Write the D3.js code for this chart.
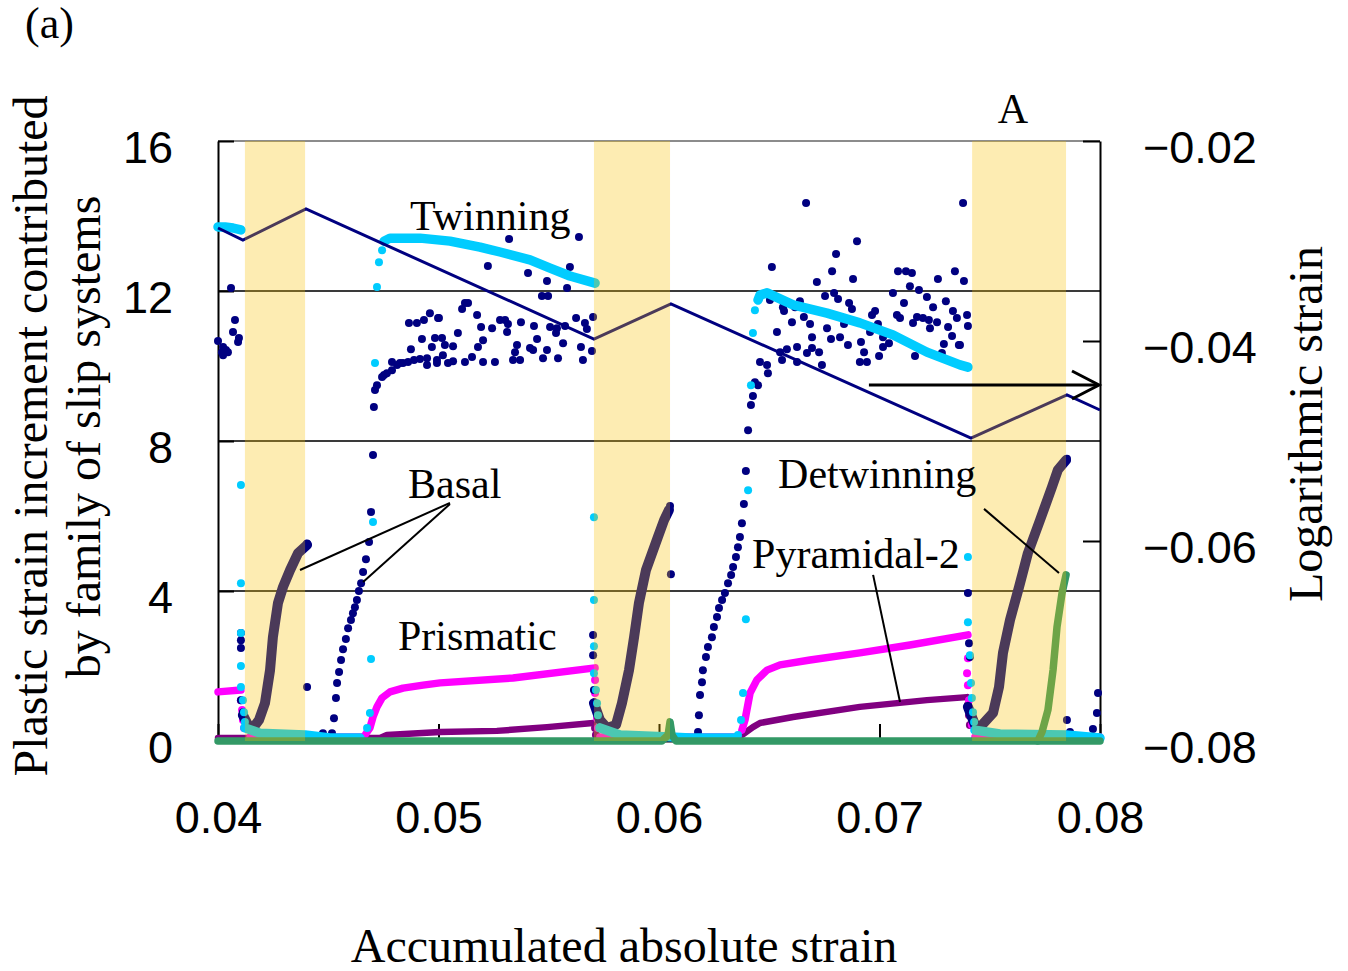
<!DOCTYPE html>
<html>
<head>
<meta charset="utf-8">
<script src="https://cdn.jsdelivr.net/npm/d3@7"></script>
<style>
  body { margin: 0; background: #fff; }
  svg { display: block; }
</style>
</head>
<body>
<svg width="1348" height="971"></svg>
<script>
// ---- data ----
// x = accumulated absolute strain, y = plastic strain increment (left axis)
const xTicks = [0.04, 0.05, 0.06, 0.07, 0.08];
const yTicks = [0, 4, 8, 12, 16];
const y2Ticks = [-0.08, -0.06, -0.04, -0.02];

// shaded loading intervals
const bands = [[0.04122, 0.04395], [0.05705, 0.0605], [0.0742, 0.07846]];

// logarithmic strain (right axis)
const logStrain = [[0.0400, -0.0287], [0.04113, -0.0299], [0.04399, -0.0268], [0.05705, -0.0398],
  [0.06054, -0.0363], [0.07415, -0.0497], [0.0785, -0.0454], [0.0800, -0.0469]];

// Basal - scattered points
const basalDots = [
  [0.04059, 12.08], [0.04077, 11.23], [0.04068, 10.91], [0.04095, 10.75], [0.04091, 10.64], [0.04000, 10.67],
  [0.04023, 10.51], [0.04036, 10.43], [0.04023, 10.29], [0.04045, 10.37], [0.04018, 10.37],
  [0.04104, 2.88], [0.04104, 2.69], [0.04104, 2.48], [0.04104, 1.09], [0.04113, 0.77],
  [0.04404, 1.44], [0.04404, 5.27], [0.04417, 0.08], [0.04440, 0.08], [0.04476, 0.21], [0.04508, 0.08],
  [0.04517, 0.21], [0.04526, 0.61], [0.04535, 1.15], [0.04540, 1.55], [0.04549, 1.84], [0.04558, 2.16],
  [0.04567, 2.45], [0.04580, 2.72], [0.04590, 3.01], [0.04603, 3.23], [0.04612, 3.41], [0.04621, 3.57],
  [0.04630, 3.76], [0.04639, 4.00], [0.04649, 4.21], [0.04658, 4.51], [0.04671, 4.85], [0.04685, 5.31],
  [0.04694, 6.11], [0.04703, 7.63], [0.04707, 8.91], [0.04712, 9.36], [0.04721, 9.49], [0.04744, 9.71],
  [0.04753, 9.76], [0.04766, 9.81], [0.04789, 9.89], [0.04812, 10.03], [0.04825, 10.08], [0.04839, 10.08],
  [0.04862, 10.11], [0.04889, 10.16], [0.04916, 10.19], [0.04948, 10.21], [0.04993, 10.16], [0.04789, 10.11],
  [0.04875, 10.45], [0.04925, 10.72], [0.04970, 10.51], [0.04866, 11.15], [0.04902, 11.15], [0.04934, 11.23],
  [0.04961, 11.41], [0.04998, 11.28], [0.04948, 10.03],
  [0.05320, 13.39], [0.05637, 13.44], [0.05224, 12.67], [0.05406, 12.48], [0.05492, 12.27], [0.05596, 12.64],
  [0.05583, 12.08], [0.05469, 11.87], [0.05497, 11.87], [0.05120, 11.68], [0.05134, 11.68], [0.05107, 11.52],
  [0.05175, 11.36], [0.05002, 11.28], [0.05279, 11.23], [0.05302, 11.23], [0.05315, 11.12], [0.05374, 11.17],
  [0.05433, 11.07], [0.05193, 11.04], [0.05243, 11.01], [0.05311, 10.91], [0.05506, 11.04], [0.05537, 11.01],
  [0.05574, 11.07], [0.05624, 11.28], [0.05664, 11.15], [0.05701, 11.31], [0.05673, 10.99], [0.05533, 10.88],
  [0.05088, 10.88], [0.04984, 10.75], [0.05016, 10.75], [0.05202, 10.69], [0.05447, 10.72], [0.05565, 10.61],
  [0.05356, 10.56], [0.05029, 10.56], [0.05066, 10.53], [0.05179, 10.51], [0.05415, 10.48], [0.05646, 10.51],
  [0.05696, 10.40], [0.05020, 10.29], [0.05347, 10.37], [0.05429, 10.43], [0.05492, 10.43], [0.05152, 10.24],
  [0.05370, 10.16], [0.05338, 10.16], [0.05120, 10.11], [0.05202, 10.11], [0.05256, 10.11], [0.05474, 10.21],
  [0.05542, 10.21], [0.05655, 10.16], [0.04993, 10.08], [0.05043, 10.08], [0.05066, 10.13],
  [0.05701, 2.83], [0.05701, 2.29], [0.05705, 1.36], [0.06050, 6.27], [0.06054, 4.45],
  [0.06077, 0.08], [0.06095, 0.05], [0.06118, 0.08], [0.06141, 0.05], [0.06159, 0.08], [0.06177, 0.24],
  [0.06181, 0.69], [0.06186, 1.23], [0.06195, 1.57], [0.06199, 1.89], [0.06213, 2.24], [0.06222, 2.51],
  [0.06240, 2.77], [0.06249, 3.04], [0.06263, 3.31], [0.06272, 3.55], [0.06286, 3.76], [0.06299, 3.95],
  [0.06313, 4.21], [0.06327, 4.43], [0.06336, 4.64], [0.06349, 4.91], [0.06358, 5.17], [0.06367, 5.44],
  [0.06376, 5.81], [0.06385, 6.32], [0.06394, 7.20], [0.06404, 8.29], [0.06417, 8.96], [0.06426, 9.20],
  [0.06449, 9.49], [0.06435, 9.57], [0.06494, 9.81],
  [0.06667, 14.35], [0.07379, 14.35], [0.06898, 13.33], [0.06803, 12.99], [0.06512, 12.64], [0.06785, 12.53],
  [0.06880, 12.32], [0.06716, 12.24], [0.07084, 12.53], [0.07120, 12.53], [0.07147, 12.48], [0.07342, 12.53],
  [0.07265, 12.32], [0.07383, 12.27], [0.07138, 12.13], [0.07179, 12.03], [0.06753, 11.87], [0.06794, 11.95],
  [0.06812, 11.79], [0.07061, 11.95], [0.06503, 11.76], [0.06639, 11.73], [0.06862, 11.68], [0.06875, 11.52],
  [0.07111, 11.68], [0.07215, 11.84], [0.07301, 11.73], [0.06562, 11.57], [0.06567, 11.47], [0.06617, 11.57],
  [0.06980, 11.47], [0.07243, 11.57], [0.07333, 11.47], [0.06966, 11.36], [0.07079, 11.36], [0.06657, 11.31],
  [0.07093, 11.28], [0.07170, 11.31], [0.07197, 11.28], [0.07224, 11.23], [0.07351, 11.28], [0.07397, 11.36],
  [0.06603, 11.17], [0.06685, 11.12], [0.06839, 11.12], [0.06993, 11.12], [0.07152, 11.15], [0.07261, 11.17],
  [0.07401, 11.07], [0.06762, 11.01], [0.07311, 11.04], [0.07229, 11.01], [0.06535, 10.91], [0.06957, 10.91],
  [0.07016, 10.77], [0.07329, 10.80], [0.06694, 10.77], [0.06821, 10.77], [0.06780, 10.72], [0.07043, 10.61],
  [0.06916, 10.64], [0.06857, 10.56], [0.07292, 10.59], [0.07360, 10.56], [0.07016, 10.51], [0.06626, 10.51],
  [0.06580, 10.45], [0.06694, 10.48], [0.06726, 10.37], [0.06671, 10.35], [0.06549, 10.37], [0.06930, 10.37],
  [0.07283, 10.35], [0.07161, 10.27], [0.06998, 10.27], [0.06558, 10.16], [0.06458, 10.11], [0.06490, 10.03],
  [0.06911, 10.11], [0.06943, 10.11], [0.06739, 10.03], [0.06626, 10.11], [0.07365, 10.56],
  [0.07401, 3.95], [0.07406, 2.61], [0.07410, 2.24], [0.07850, 7.53],
  [0.07850, 0.56], [0.07864, 0.24], [0.07909, 0.08], [0.07968, 0.32], [0.07986, 0.75], [0.07991, 1.28]
];
// Basal - dense growth inside the shaded intervals
const basalCurves = [
  [[0.04113, 0.69], [0.04136, 0.43], [0.04159, 0.35], [0.04186, 0.56], [0.04213, 1.01], [0.04236, 1.89],
   [0.04249, 2.77], [0.04272, 3.68], [0.04295, 4.11], [0.04327, 4.56], [0.04363, 5.01], [0.04404, 5.23]],
  [[0.05705, 1.01], [0.05732, 0.56], [0.05764, 0.35], [0.05805, 0.43], [0.05832, 1.01], [0.05864, 1.89],
   [0.05887, 2.77], [0.05909, 3.68], [0.05941, 4.56], [0.05995, 5.44], [0.06023, 5.89], [0.06045, 6.16]],
  [[0.07401, 0.91], [0.07433, 0.43], [0.07456, 0.37], [0.07515, 0.75], [0.07542, 1.44], [0.07560, 2.35],
   [0.07592, 3.23], [0.07633, 4.11], [0.07673, 5.01], [0.07728, 5.89], [0.07782, 6.77], [0.07809, 7.23],
   [0.07846, 7.49]]
];

// Twinning
const twinDots = [
  [0.04104, 6.83], [0.04104, 4.21], [0.04104, 2.88], [0.04104, 2.00], [0.04104, 1.44], [0.04113, 1.09],
  [0.04118, 0.77], [0.04122, 0.51],
  [0.04676, 0.35], [0.04689, 0.75], [0.04694, 2.19], [0.04703, 5.84], [0.04712, 10.08], [0.04721, 12.11],
  [0.04730, 12.77], [0.04744, 13.09],
  [0.05705, 5.97], [0.05705, 3.76], [0.05705, 2.53], [0.05705, 1.81], [0.05714, 1.36], [0.05719, 1.01],
  [0.05723, 0.69],
  [0.06358, 0.16], [0.06372, 0.56], [0.06381, 1.28], [0.06394, 3.25], [0.06404, 6.69], [0.06417, 9.49],
  [0.06426, 10.88], [0.06435, 11.49],
  [0.07401, 4.91], [0.07401, 3.17], [0.07410, 2.29], [0.07415, 1.55], [0.07419, 1.15], [0.07424, 0.77],
  [0.07429, 0.51]
];
const twinCurves = [
  [[0.0400, 13.71], [0.04032, 13.71], [0.04068, 13.68], [0.04104, 13.63]],
  [[0.04122, 0.35], [0.04190, 0.21], [0.04395, 0.16], [0.04508, 0.08], [0.04644, 0.08]],
  [[0.04753, 13.33], [0.04780, 13.41], [0.04916, 13.41], [0.05052, 13.33], [0.05188, 13.17], [0.05279, 13.04],
   [0.05415, 12.83], [0.05506, 12.61], [0.05596, 12.40], [0.05710, 12.21]],
  [[0.05732, 0.35], [0.05823, 0.16], [0.06050, 0.11], [0.06141, 0.08], [0.06345, 0.08]],
  [[0.06449, 11.76], [0.06458, 11.89], [0.06490, 11.95], [0.06608, 11.63], [0.06762, 11.41], [0.06911, 11.15],
   [0.07061, 10.83], [0.07215, 10.37], [0.07365, 10.03], [0.07401, 9.97]],
  [[0.07433, 0.29], [0.07546, 0.19], [0.07846, 0.16], [0.0800, 0.08]]
];

// Prismatic
const prisDots = [
  [0.04104, 1.09], [0.04109, 0.83], [0.04113, 0.56], [0.04118, 0.35],
  [0.05710, 1.63], [0.05710, 1.28], [0.05714, 0.96], [0.05719, 0.61], [0.05723, 0.35],
  [0.07401, 2.21], [0.07397, 1.81], [0.07401, 1.49], [0.07406, 1.09], [0.07410, 0.75], [0.07419, 0.43]
];
const prisCurves = [
  [[0.0400, 1.31], [0.04104, 1.36]],
  [[0.04145, 0.11], [0.04653, 0.11]],
  [[0.04667, 0.16], [0.04689, 0.35], [0.04703, 0.64], [0.04721, 0.91], [0.04744, 1.15], [0.04780, 1.31],
   [0.04839, 1.41], [0.04930, 1.49], [0.05007, 1.55], [0.05338, 1.68], [0.05710, 1.95]],
  [[0.05732, 0.11], [0.06358, 0.11]],
  [[0.06376, 0.29], [0.06390, 0.56], [0.06413, 1.28], [0.06444, 1.63], [0.06490, 1.89], [0.06549, 2.03],
   [0.06685, 2.16], [0.06911, 2.35], [0.07138, 2.56], [0.07401, 2.83]],
  [[0.07433, 0.11], [0.0800, 0.11]]
];

// Pyramidal-2
const pyrDots = [[0.05710, 0.35], [0.05714, 0.16], [0.07401, 0.96], [0.07406, 0.69], [0.07410, 0.43]];
const pyrCurves = [
  [[0.0400, 0.08], [0.04735, 0.08], [0.04766, 0.16], [0.05007, 0.24], [0.05265, 0.27], [0.05492, 0.37],
   [0.05701, 0.48]],
  [[0.05732, 0.08], [0.06358, 0.08], [0.06376, 0.16], [0.06426, 0.37], [0.06458, 0.48], [0.06608, 0.64],
   [0.06911, 0.91], [0.07215, 1.09], [0.07397, 1.17]],
  [[0.07433, 0.08], [0.0800, 0.08]]
];

// Detwinning
const detCurves = [
  [[0.0400, 0], [0.06013, 0], [0.06041, 0.16], [0.06050, 0.51], [0.06059, 0.16], [0.06077, 0], [0.07718, 0],
   [0.07737, 0.24], [0.07764, 0.83], [0.07787, 1.89], [0.07805, 3.04], [0.07828, 3.95], [0.07846, 4.43]],
  [[0.07718, 0], [0.0800, 0]]
];

// labels and leader lines, in data units
const labels = [
  { text: 'Twinning', x: 0.04871, y: 13.63 },
  { text: 'Basal', x: 0.04862, y: 6.48 },
  { text: 'Prismatic', x: 0.04816, y: 2.43 },
  { text: 'Detwinning', x: 0.0654, y: 6.75 },
  { text: 'Pyramidal-2', x: 0.06422, y: 4.61 }
];
const leaders = [
  [[0.05052, 6.35], [0.04372, 4.56]],
  [[0.05052, 6.32], [0.04658, 4.24]],
  [[0.07474, 6.19], [0.07814, 4.48]],
  [[0.06971, 4.43], [0.07093, 1.04]]
];

// ---- chart ----
const svg = d3.select('svg');
const serif = '"Liberation Serif", "Times New Roman", serif';
const sans = '"Liberation Sans", Arial, sans-serif';

const x = d3.scaleLinear().domain([0.04, 0.08]).range([218, 1100]);
const y = d3.scaleLinear().domain([0, 16]).range([741, 141]);
const y2 = d3.scaleLinear().domain([-0.08, -0.02]).range([741, 141]);

// grid lines and top border
svg.append('g')
  .selectAll('line')
  .data(yTicks.filter(d => d > 0))
  .enter()
  .append('line')
  .attr('x1', x(0.04)).attr('x2', x(0.08))
  .attr('y1', d => y(d)).attr('y2', d => y(d))
  .attr('stroke', d => d === 16 ? '#8c8c8c' : '#3a3a3a')
  .attr('stroke-width', 1.8);

// axes, ticks pointing inward (drawn under the data)
const axLeft = svg.append('g')
  .attr('transform', `translate(${x(0.04)},0)`)
  .call(d3.axisLeft(y).tickValues(yTicks).tickSize(-16).tickSizeOuter(0).tickFormat(d3.format('d')));
axLeft.selectAll('.tick text').attr('x', -45).attr('dy', null).attr('y', 21);

const axRight = svg.append('g')
  .attr('transform', `translate(${x(0.08)},0)`)
  .call(d3.axisRight(y2).tickValues(y2Ticks).tickSize(-17).tickSizeOuter(0).tickFormat(d3.format('.2f')));
axRight.selectAll('.tick text').attr('x', 43).attr('dy', null).attr('y', 21);

const axBottom = svg.append('g')
  .attr('transform', `translate(0,${y(0)})`)
  .call(d3.axisBottom(x).tickValues(xTicks).tickSize(-17).tickSizeOuter(0).tickFormat(d3.format('.2f')));
axBottom.selectAll('.tick text').attr('dy', null).attr('y', 92);

[axLeft, axRight, axBottom].forEach(g => {
  g.selectAll('path, line').attr('stroke', '#000').attr('stroke-width', 2);
  g.selectAll('text').attr('font-family', sans).attr('font-size', 45).attr('fill', '#000');
});

const line = d3.line().x(d => x(d[0])).y(d => y(d[1]));

function drawSeries(curves, dots, color, width) {
  const g = svg.append('g');
  g.selectAll('path')
    .data(curves)
    .enter()
    .append('path')
    .attr('d', line)
    .attr('fill', 'none')
    .attr('stroke', color)
    .attr('stroke-width', width)
    .attr('stroke-linecap', 'round')
    .attr('stroke-linejoin', 'round');
  g.selectAll('circle')
    .data(dots)
    .enter()
    .append('circle')
    .attr('cx', d => x(d[0]))
    .attr('cy', d => y(d[1]))
    .attr('r', 4)
    .attr('fill', color);
}

drawSeries(pyrCurves, pyrDots, '#800080', 6.5);
drawSeries(prisCurves, prisDots, '#ff00ff', 7.5);
drawSeries(basalCurves, basalDots, '#000080', 10);
drawSeries(twinCurves, twinDots, '#00ccff', 9.5);
drawSeries(detCurves, [], '#339966', 7.5);

// logarithmic strain, right axis
svg.append('path')
  .datum(logStrain)
  .attr('d', d3.line().x(d => x(d[0])).y(d => y2(d[1])))
  .attr('fill', 'none')
  .attr('stroke', '#000080')
  .attr('stroke-width', 3);

// shaded intervals, laid over the data
svg.append('g')
  .selectAll('rect')
  .data(bands)
  .enter()
  .append('rect')
  .attr('x', d => x(d[0]))
  .attr('width', d => x(d[1]) - x(d[0]))
  .attr('y', y(16))
  .attr('height', y(0) - y(16))
  .attr('fill', '#f8c000')
  .attr('opacity', 0.3);

// leader lines
svg.append('g')
  .selectAll('line')
  .data(leaders)
  .enter()
  .append('line')
  .attr('x1', d => x(d[0][0])).attr('y1', d => y(d[0][1]))
  .attr('x2', d => x(d[1][0])).attr('y2', d => y(d[1][1]))
  .attr('stroke', '#000')
  .attr('stroke-width', 2);

// series labels
svg.append('g')
  .selectAll('text')
  .data(labels)
  .enter()
  .append('text')
  .attr('x', d => x(d.x))
  .attr('y', d => y(d.y))
  .attr('font-family', serif)
  .attr('font-size', 42)
  .text(d => d.text);

svg.append('text')
  .attr('x', x(0.07605)).attr('y', y(16.48))
  .attr('text-anchor', 'middle')
  .attr('font-family', serif).attr('font-size', 42)
  .text('A');

// arrow pointing to the right axis
const ay = y2(-0.0444);
svg.append('line')
  .attr('x1', x(0.06952)).attr('x2', x(0.08) - 2)
  .attr('y1', ay).attr('y2', ay)
  .attr('stroke', '#000').attr('stroke-width', 3);
svg.append('path')
  .attr('d', `M${x(0.08) - 28},${ay - 14}L${x(0.08) - 1},${ay}L${x(0.08) - 28},${ay + 14}`)
  .attr('fill', 'none').attr('stroke', '#000').attr('stroke-width', 3);

// axis titles
svg.append('text')
  .attr('transform', 'translate(47,436) rotate(-90)')
  .attr('text-anchor', 'middle')
  .attr('font-family', serif).attr('font-size', 48)
  .text('Plastic strain increment contributed');
svg.append('text')
  .attr('transform', 'translate(100,437) rotate(-90)')
  .attr('text-anchor', 'middle')
  .attr('font-family', serif).attr('font-size', 48)
  .text('by family of slip systems');
svg.append('text')
  .attr('transform', 'translate(1322,424) rotate(-90)')
  .attr('text-anchor', 'middle')
  .attr('font-family', serif).attr('font-size', 48)
  .text('Logarithmic strain');
svg.append('text')
  .attr('x', 624).attr('y', 962)
  .attr('text-anchor', 'middle')
  .attr('font-family', serif).attr('font-size', 48)
  .text('Accumulated absolute strain');
svg.append('text')
  .attr('x', 25).attr('y', 38)
  .attr('font-family', serif).attr('font-size', 44)
  .text('(a)');
</script>
</body>
</html>
